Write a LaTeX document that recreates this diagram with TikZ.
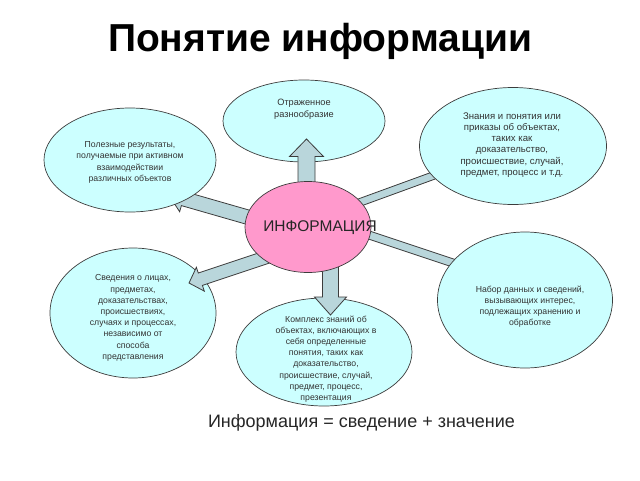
\documentclass[tikz,border=0pt]{standalone}
\usepackage{fontspec}
\setmainfont{Liberation Sans}
\usetikzlibrary{calc,shapes.geometric}

\definecolor{bubblefill}{RGB}{204,255,255}
\definecolor{infofill}{RGB}{255,153,204}
\definecolor{arrowfill}{RGB}{185,214,219}
\definecolor{edgegray}{RGB}{60,60,60}

\tikzset{
  bubble/.style={ellipse, draw=edgegray, fill=bubblefill, line width=0.7pt, inner sep=0pt},
  arrowbody/.style={draw=edgegray, fill=arrowfill, line width=0.8pt, line join=miter},
  note/.style={align=center, text=black!80, font=\fontsize{8.7}{11.2}\selectfont},
}

% block arrow: start, tip, half shaft, half head, head length
\newcommand{\blockarrow}[5]{%
  \coordinate (neck) at ($(#2)!#5!(#1)$);
  \draw[arrowbody] ($(#1)!#3!90:(#2)$) -- ($(neck)!#3!90:(#2)$) -- ($(neck)!#4!90:(#2)$)
    -- (#2) -- ($(neck)!#4!-90:(#2)$) -- ($(neck)!#3!-90:(#2)$) -- ($(#1)!#3!-90:(#2)$) -- cycle;
}

\begin{document}
\begin{tikzpicture}[x=1pt, y=-1pt]
  \useasboundingbox (0,0) rectangle (640,480);

  \node[anchor=base, font=\fontsize{39}{41}\selectfont\bfseries] (title) at (320,51) {Понятие информации};

  \coordinate (ulStart) at (268,223);
  \coordinate (ulTip) at (168.5,194.4);
  \coordinate (urStart) at (350,206);
  \coordinate (urTip) at (457,167);
  \coordinate (lrStart) at (360,232);
  \coordinate (lrTip) at (492,276);
  \coordinate (topStart) at (306.5,200);
  \coordinate (topTip) at (306.5,139);
  \coordinate (botStart) at (330.5,250);
  \coordinate (botTip) at (330.5,315);
  \coordinate (llStart) at (279,253);
  \coordinate (llTip) at (189,283);

  \blockarrow{ulStart}{ulTip}{7.2pt}{13.6pt}{15.5pt}
  \blockarrow{urStart}{urTip}{3.8pt}{16pt}{14pt}
  \blockarrow{lrStart}{lrTip}{4pt}{12pt}{16pt}

  \node[bubble, minimum width=162pt, minimum height=82pt] (refl) at (304,121) {};
  \node[bubble, minimum width=172pt, minimum height=104pt] (useful) at (130,160) {};
  \node[bubble, minimum width=187pt, minimum height=117pt] (know) at (513,146) {};
  \node[bubble, minimum width=166pt, minimum height=130pt] (facts) at (133,313) {};
  \node[bubble, minimum width=176pt, minimum height=108pt] (complex) at (324,352) {};
  \node[bubble, minimum width=175pt, minimum height=136pt] (dataset) at (525,300) {};

  \blockarrow{topStart}{topTip}{8.5pt}{17pt}{17.5pt}
  \blockarrow{botStart}{botTip}{8pt}{16pt}{18pt}
  \blockarrow{llStart}{llTip}{6.5pt}{12.6pt}{12pt}

  \node[ellipse, draw=edgegray, fill=infofill, line width=0.7pt, inner sep=0pt,
        minimum width=126pt, minimum height=91pt] (info) at (308,227) {};

  \node[font=\fontsize{15.5}{17}\selectfont, text=black!85] (infoText) at (320,228) {ИНФОРМАЦИЯ};
  \node[note, font=\fontsize{9.2}{12}\selectfont] (reflText) at (304,109) {Отраженное\\разнообразие};
  \node[note] (usefulText) at (130,162.5) {Полезные результаты,\\получаемые при активном\\взаимодействии\\различных объектов};
  \node[note, font=\fontsize{9.6}{11.2}\selectfont] (knowText) at (512,145) {Знания и понятия или\\приказы об объектах,\\таких как\\доказательство,\\происшествие, случай,\\предмет, процесс и т.д.};
  \node[note] (factsText) at (133,318) {Сведения о лицах,\\предметах,\\доказательствах,\\происшествиях,\\случаях и процессах,\\независимо от\\способа\\представления};
  \node[note] (complexText) at (326,359) {Комплекс знаний об\\объектах, включающих в\\себя определенные\\понятия, таких как\\доказательство,\\происшествие, случай,\\предмет, процесс,\\презентация};
  \node[note] (datasetText) at (530,306.5) {Набор данных и сведений,\\вызывающих интерес,\\подлежащих хранению и\\обработке};

  \node[font=\fontsize{18}{20}\selectfont, text=black!85] (formula) at (361.5,423) {Информация = сведение + значение};
\end{tikzpicture}
\end{document}
